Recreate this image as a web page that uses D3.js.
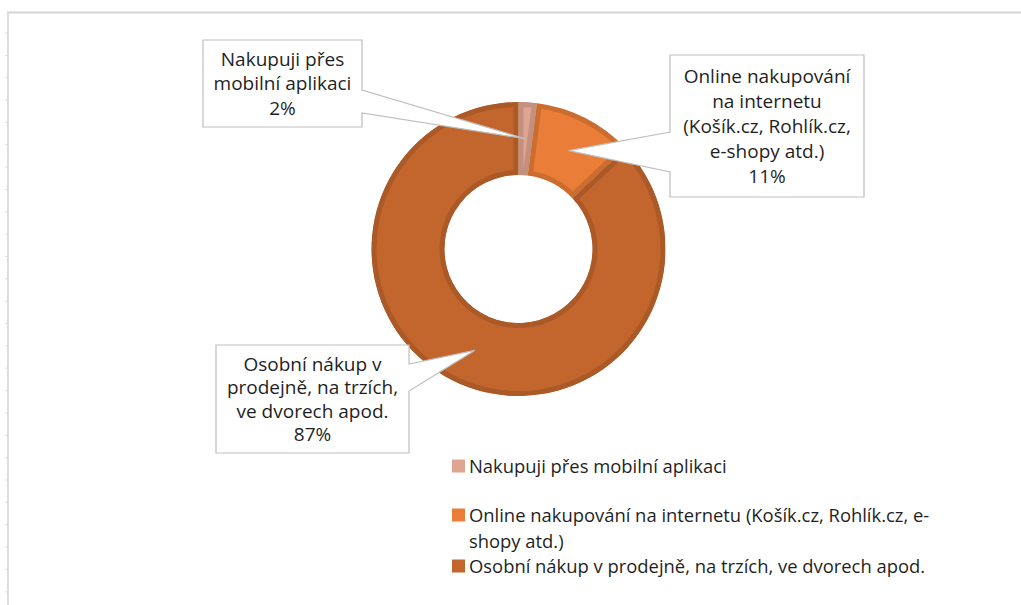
<!DOCTYPE html>
<html>
<head>
<meta charset="utf-8">
<script src="https://cdn.jsdelivr.net/npm/d3@7"></script>
<style>
  html, body { margin: 0; padding: 0; background: #fff; }
  svg { display: block; }
  text { font-family: "Open Sans", "Noto Sans", sans-serif; fill: #1f1f1f; }
</style>
</head>
<body>
<svg id="chart" width="1021" height="605"></svg>
<script>
// ---- data ----
const categories = [
  "Nakupuji přes mobilní aplikaci",
  "Online nakupování na internetu (Košík.cz, Rohlík.cz, e-shopy atd.)",
  "Osobní nákup v prodejně, na trzích, ve dvorech apod."
];
const values = [2, 11, 87];
const percentLabels = ["2%", "11%", "87%"];
const calloutLines = [
  ["Nakupuji přes", "mobilní aplikaci"],
  ["Online nakupování", "na internetu", "(Košík.cz, Rohlík.cz,", "e-shopy atd.)"],
  ["Osobní nákup v", "prodejně, na trzích,", "ve dvorech apod."]
];
const legendLines = [
  ["Nakupuji přes mobilní aplikaci"],
  ["Online nakupování na internetu (Košík.cz, Rohlík.cz, e-", "shopy atd.)"],
  ["Osobní nákup v prodejně, na trzích, ve dvorech apod."]
];
const colors = ["#dfa591", "#ea7d37", "#c3662d"];

// ---- layout ----
const W = 1021, H = 605;
const cx = 518.5, cy = 249, rOuter = 147, rInner = 74;
const svg = d3.select("#chart");

// frame
const frame = svg.append("g");
frame.append("line").attr("x1", 7).attr("x2", W).attr("y1", 12.5).attr("y2", 12.5)
  .attr("stroke", "#d4d4d4").attr("stroke-width", 2);
frame.append("line").attr("x1", 8).attr("x2", 8).attr("y1", 12).attr("y2", H)
  .attr("stroke", "#dcdcdc").attr("stroke-width", 2);
const tickY = d3.range(33, H, 22.35);
frame.selectAll("line.tk").data(tickY).join("line").attr("class", "tk")
  .attr("x1", 5.5).attr("x2", 7).attr("y1", d => d).attr("y2", d => d)
  .attr("stroke", "#cfcfcf").attr("stroke-width", 1);

// donut
const pie = d3.pie().sort(null).value(d => d).startAngle(0).endAngle(2 * Math.PI);
const arcs = pie(values);
const arc = d3.arc().innerRadius(rInner).outerRadius(rOuter);
const g = svg.append("g").attr("transform", `translate(${cx},${cy})`);
const defs = svg.append("defs");
arcs.forEach((a, i) => {
  defs.append("clipPath").attr("id", "clip" + i).append("path").attr("d", arc(a));
});
g.selectAll("path.slice").data(arcs).join("path").attr("class", "slice")
  .attr("d", arc)
  .attr("fill", (d, i) => colors[i])
  .attr("stroke", (d, i) => d3.color(colors[i]).darker(0.38))
  .attr("stroke-width", 10)
  .attr("clip-path", (d, i) => `url(#clip${i})`);

// callouts
const boxes = [
  { x: 203, y: 40, w: 159, h: 87, side: "right", b0: 90, b1: 113, lh: 24.5 },
  { x: 670, y: 55, w: 194, h: 142, side: "left", b0: 132, b1: 172, lh: 25 },
  { x: 216, y: 345, w: 193, h: 108, side: "right", b0: 364, b1: 391, lh: 23.5 }
];
const calG = svg.append("g");
arcs.forEach((a, i) => {
  const b = boxes[i];
  const c = arc.centroid(a);
  const tx = cx + c[0], ty = cy + c[1];
  let pts;
  if (b.side === "right") {
    const xr = b.x + b.w;
    pts = [[b.x, b.y], [xr, b.y], [xr, b.b0], [tx, ty], [xr, b.b1], [xr, b.y + b.h], [b.x, b.y + b.h]];
  } else {
    pts = [[b.x, b.y], [b.x + b.w, b.y], [b.x + b.w, b.y + b.h], [b.x, b.y + b.h], [b.x, b.b1], [tx, ty], [b.x, b.b0]];
  }
  calG.append("path")
    .attr("d", d3.line()(pts) + "Z")
    .attr("fill", "#fff").attr("stroke", "#bfbfbf").attr("stroke-width", 1.2);
  const lines = calloutLines[i].concat([percentLabels[i]]);
  const n = lines.length;
  const midY = b.y + b.h / 2;
  const t = calG.append("text").attr("text-anchor", "middle").attr("font-size", 19);
  lines.forEach((ln, k) => {
    t.append("tspan").attr("x", b.x + b.w / 2)
      .attr("y", midY + (k - (n - 1) / 2) * b.lh)
      .attr("dy", "0.36em").text(ln);
  });
});

// legend
const legY = [466, 515, 566];
const legG = svg.append("g");
legendLines.forEach((lines, i) => {
  legG.append("rect").attr("x", 452).attr("y", legY[i] - 6.5).attr("width", 13).attr("height", 13)
    .attr("fill", colors[i]);
  const t = legG.append("text").attr("font-size", 18.4);
  lines.forEach((ln, k) => {
    t.append("tspan").attr("x", 469).attr("y", legY[i] + k * 26).attr("dy", "0.36em").text(ln);
  });
});
</script>
</body>
</html>
